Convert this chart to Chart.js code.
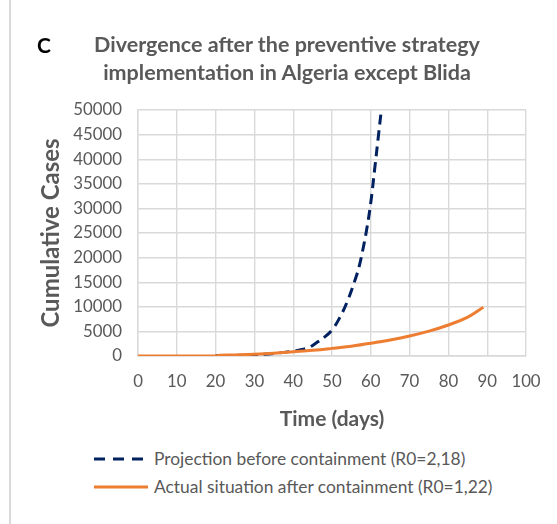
<!DOCTYPE html>
<html>
<head>
<meta charset="utf-8">
<script src="https://cdn.jsdelivr.net/npm/chart.js@4.4.1/dist/chart.umd.min.js"></script>
<style>
  html, body { margin: 0; padding: 0; background: #fff; }
  #wrap { position: relative; width: 557px; height: 524px; overflow: hidden; font-family: Lato, 'Open Sans', sans-serif; }
  #frame { position: absolute; left: 9px; top: 0; width: 2px; height: 524px; background: #d9d9d9; }
  #panel { position: absolute; left: 37px; top: 32px; font-size: 21px; font-weight: bold; color: #000; }
  #title { position: absolute; left: 0; width: 574px; top: 30px; text-align: center; font-size: 21.5px; font-weight: bold; color: #595959; line-height: 28px; }
  #chartBox { position: absolute; left: 0; top: 0; width: 557px; height: 440px; }
  .leg { position: absolute; left: 94px; font-size: 17.4px; color: #595959; white-space: nowrap; }
  .leg svg { position: absolute; left: 0; top: 0; }
  .leg span { position: absolute; left: 60px; top: -11px; }
</style>
</head>
<body>
<div id="wrap">
  <div id="frame"></div>
  <div id="chartBox"><canvas id="c" width="557" height="440"></canvas></div>
  <div id="panel">C</div>
  <div id="title">Divergence after the preventive strategy<br>implementation in Algeria except Blida</div>
  <div class="leg" style="top:459px">
    <svg width="56" height="4" style="top:-2px"><line x1="0" y1="2" x2="54" y2="2" stroke="#002060" stroke-width="3" stroke-dasharray="11,8"/></svg>
    <span>Projection before containment (R0=2,18)</span>
  </div>
  <div class="leg" style="top:487px">
    <svg width="56" height="4" style="top:-2px"><line x1="0" y1="2" x2="54" y2="2" stroke="#ED7D31" stroke-width="3"/></svg>
    <span>Actual situation after containment (R0=1,22)</span>
  </div>
</div>
<script>
const projDays  = [20, 25, 30, 35, 40, 42, 44, 46, 48, 50, 52, 54, 56, 57, 58, 59, 60, 61, 62, 63]
const projCases = [30, 110, 280, 520, 1000, 1300, 1700, 2700, 3800, 5300, 7800, 11200, 15600, 18200, 21800, 26000, 31200, 38000, 45000, 52000]

const actDays  = [0, 10, 20, 21, 25, 30, 35, 40, 45, 50, 55, 60, 65, 70, 75, 80, 85, 89]
const actCases = [0, 0, 20, 140, 220, 350, 560, 850, 1150, 1550, 2000, 2580, 3250, 4060, 5050, 6300, 7900, 9900]

const xTicks = [0, 10, 20, 30, 40, 50, 60, 70, 80, 90, 100]
const yTicks = [0, 5000, 10000, 15000, 20000, 25000, 30000, 35000, 40000, 45000, 50000]

const GREY = '#595959'
const GRID = '#d9d9d9'
const FONT = 'Lato'

new Chart(document.getElementById('c'), {
  type: 'line',
  data: {
    datasets: [
      {
        label: 'Projection before containment (R0=2,18)',
        data: projDays.map((d, i) => ({ x: d, y: projCases[i] })),
        borderColor: '#002060',
        borderWidth: 3,
        borderDash: [10, 6],
        pointRadius: 0,
        tension: 0.4,
        order: 2,
      },
      {
        label: 'Actual situation after containment (R0=1,22)',
        data: actDays.map((d, i) => ({ x: d, y: actCases[i] })),
        borderColor: '#ED7D31',
        borderWidth: 3,
        pointRadius: 0,
        tension: 0.4,
        order: 1,
      },
    ],
  },
  options: {
    responsive: false,
    animation: false,
    layout: { padding: { left: 33, right: 31, top: 110, bottom: 4 } },
    plugins: { legend: { display: false }, tooltip: { enabled: false } },
    scales: {
      x: {
        type: 'linear', min: 0, max: 100,
        afterBuildTicks: s => { s.ticks = xTicks.map(v => ({ value: v })) },
        afterFit: s => { s.height = 80 },
        grid: { color: GRID, lineWidth: 1.4, drawTicks: false },
        border: { color: GRID, width: 1.4 },
        ticks: { padding: 16, color: GREY, font: { family: FONT, size: 16.8 } },
        title: { display: true, text: 'Time (days)', color: GREY, padding: { top: 4, bottom: 4 }, font: { family: FONT, size: 21, weight: 'bold' } },
      },
      y: {
        min: 0, max: 50000,
        afterBuildTicks: s => { s.ticks = yTicks.map(v => ({ value: v })) },
        afterFit: s => { s.width = 105 },
        grid: { color: GRID, lineWidth: 1.4, drawTicks: false },
        border: { color: GRID, width: 1.4 },
        ticks: { padding: 16, color: GREY, font: { family: FONT, size: 16.8 }, callback: v => String(v) },
        title: { display: true, text: 'Cumulative Cases', color: GREY, padding: { top: 4, bottom: 4 }, font: { family: FONT, size: 24, weight: 'bold' } },
      },
    },
  },
})
</script>
</body>
</html>
